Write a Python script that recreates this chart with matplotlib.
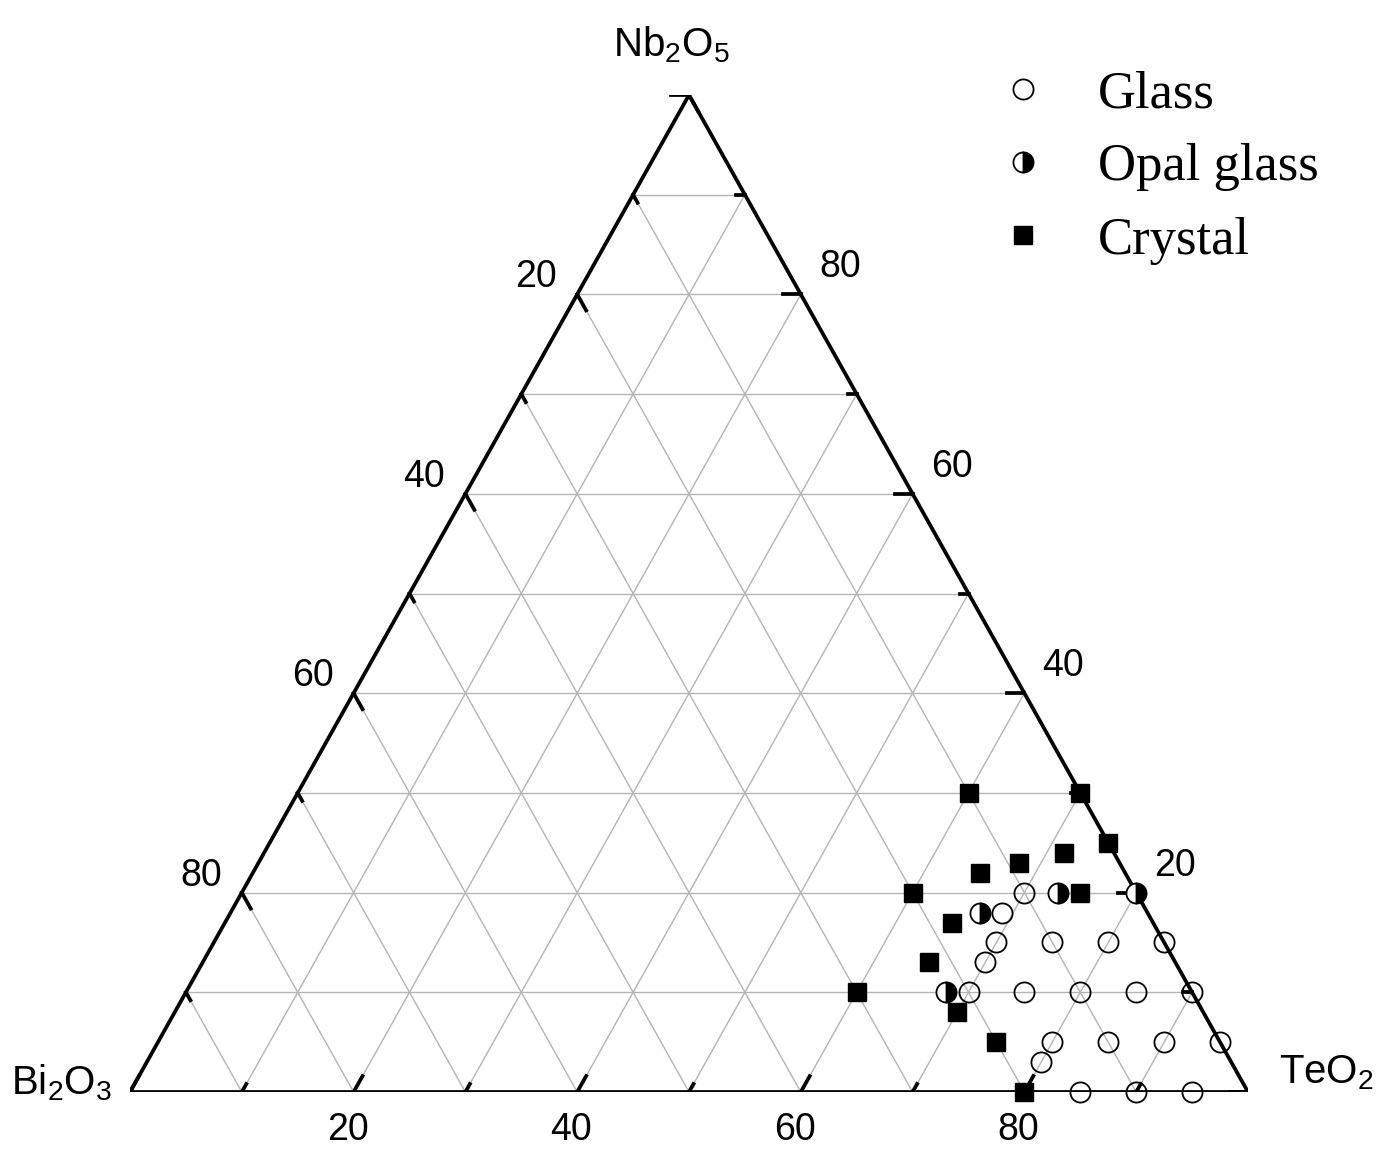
import numpy as np
import matplotlib.pyplot as plt
from matplotlib.lines import Line2D

plt.rcParams['font.family'] = ['Liberation Sans', 'DejaVu Sans']
plt.rcParams['mathtext.fontset'] = 'custom'
plt.rcParams['mathtext.rm'] = 'Liberation Sans'
plt.rcParams['mathtext.it'] = 'Liberation Sans:italic'

# compositions, mol% TeO2 and Nb2O5 (Bi2O3 = 100 - both)
glass_te = [70, 69, 70, 75, 80, 85, 70, 70, 75, 80, 85, 90, 80, 80, 85, 90, 95, 85, 90, 95]
glass_nb = [20, 18, 15, 15, 15, 15, 13, 10, 10, 10, 10, 10, 5, 3, 5, 5, 5, 0, 0, 0]
opal_te = [73, 80, 67, 68]
opal_nb = [20, 20, 18, 10]
crystal_te = [60, 70, 75, 71.5, 68, 65, 60, 75, 65, 65, 60, 70, 75, 80]
crystal_nb = [30, 30, 25, 24, 23, 22, 20, 20, 17, 13, 10, 8, 5, 0]

tick_vals = np.arange(0, 101, 10)
label_vals = [20, 40, 60, 80]
corner_names = [r'$\mathregular{Bi_2O_3}$', r'$\mathregular{TeO_2}$', r'$\mathregular{Nb_2O_5}$']
legend_names = ['Glass', 'Opal glass', 'Crystal']


def tern(te, nb):
    te = np.asarray(te, dtype=float)
    nb = np.asarray(nb, dtype=float)
    return te + nb / 2, nb


fig = plt.figure(figsize=(13.82, 11.6), dpi=100)
ax = fig.add_axes([130 / 1382, 68 / 1160, 1118 / 1382, 997 / 1160])
ax.set_xlim(0, 100)
ax.set_ylim(0, 100)
ax.axis('off')

# grid
gc = '#b4b4b4'
for v in tick_vals[1:-1]:
    ax.plot(*zip(tern(0, v), tern(100 - v, v)), color=gc, lw=1.0, zorder=1)
    ax.plot(*zip(tern(v, 0), tern(v, 100 - v)), color=gc, lw=1.0, zorder=1)
    ax.plot(*zip(tern(0, 100 - v), tern(100 - v, 0)), color=gc, lw=1.0, zorder=1)

# frame
lw = 2.7
fx, fy = tern([0, 100, 0, 0], [0, 0, 100, 0])
ax.plot(fx, fy, color='black', lw=lw, solid_joinstyle='miter', zorder=3)

# ticks
for v in tick_vals:
    L = 1.6 if v % 20 == 0 else 0.8
    # bottom (TeO2), pointing along Te = const
    ax.plot(*zip(tern(v, 0), tern(v, L)), color='black', lw=lw, zorder=3)
    # left (Bi2O3), pointing along Bi = const
    ax.plot(*zip(tern(0, 100 - v), tern(L, 100 - v - L)), color='black', lw=lw, zorder=3)
    # right (Nb2O5), horizontal
    x0, y0 = tern(100 - v, v)
    ax.plot([x0, x0 - L], [y0, y0], color='black', lw=lw, zorder=3)

for v in label_vals:
    ax.annotate(str(v), tern(v, 0), xytext=(-6, -38), textcoords='offset pixels',
                ha='center', va='center', fontsize=27)
    ax.annotate(str(v), tern(0, 100 - v), xytext=(-41, 17), textcoords='offset pixels',
                ha='center', va='center', fontsize=27)
    ax.annotate(str(v), tern(100 - v, v), xytext=(39, 27), textcoords='offset pixels',
                ha='center', va='center', fontsize=27)

corner_pts = [tern(0, 0), tern(100, 0), tern(0, 100)]
corner_off = [(-68, 9), (78, 19), (-18, 50)]
for name, pt, off in zip(corner_names, corner_pts, corner_off):
    ax.annotate(name, pt, xytext=off, textcoords='offset pixels',
                ha='center', va='center', fontsize=29)

# data
ms = 14.5
mew = 1.3
gx, gy = tern(glass_te, glass_nb)
ax.plot(gx, gy, 'o', ms=ms, mfc='none', mec='black', mew=mew, clip_on=False, zorder=4)
ox, oy = tern(opal_te, opal_nb)
ax.plot(ox, oy, 'o', ms=ms, fillstyle='right', mfc='black', mfcalt='white',
        mec='black', mew=mew, clip_on=False, zorder=4)
cx, cy = tern(crystal_te, crystal_nb)
ax.plot(cx, cy, 's', ms=13.5, mfc='black', mec='black', clip_on=False, zorder=5)

handles = [
    Line2D([], [], ls='none', marker='o', ms=ms, mfc='none', mec='black', mew=mew),
    Line2D([], [], ls='none', marker='o', ms=ms, fillstyle='right', mfc='black',
           mfcalt='white', mec='black', mew=mew),
    Line2D([], [], ls='none', marker='s', ms=13.5, mfc='black', mec='black'),
]
ax.legend(handles, legend_names, loc='upper left', bbox_to_anchor=(998 / 1382, 1 - 70 / 1160),
          bbox_transform=fig.transFigure, frameon=False, borderpad=0, borderaxespad=0,
          handlelength=0.95, handletextpad=0.95, labelspacing=0.48,
          prop={'family': 'Liberation Serif', 'size': 38})

fig.savefig('out.png', dpi=100)
